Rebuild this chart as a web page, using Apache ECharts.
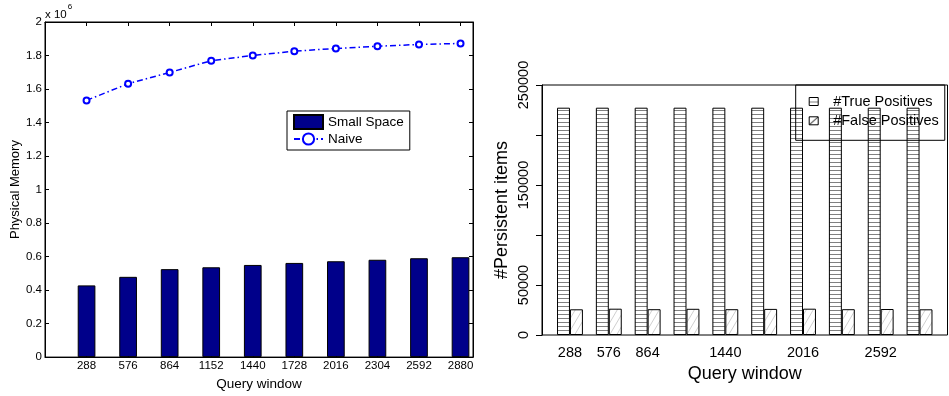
<!DOCTYPE html>
<html>
<head>
<meta charset="utf-8">
<title>Query window memory and persistent items</title>
<script src="https://cdn.jsdelivr.net/npm/echarts@6/dist/echarts.min.js"></script>
<style>
  html, body { margin: 0; padding: 0; background: #fff; }
  #chart { width: 949px; height: 396px; }
</style>
</head>
<body>
<div id="chart"></div>
<script>
// Query window sizes shared by both panels
const categories = ['288', '576', '864', '1152', '1440', '1728', '2016', '2304', '2592', '2880'];

// Left panel: physical memory usage
const smallSpace = [428000, 479000, 525000, 536000, 550000, 562000, 572000, 581000, 590000, 596000];
const naive = [1532000, 1632000, 1699000, 1769000, 1800000, 1826000, 1842000, 1855000, 1866000, 1872000];

// Right panel: persistent items found
const truePositives = [227300, 227300, 227300, 227300, 227300, 227300, 227300, 227300, 227300, 227300];
const falsePositives = [25700, 26300, 25800, 26200, 25800, 26100, 26300, 25800, 26000, 25700];

// Tick labels of the right panel (overlapping ones left blank)
const rightXLabels = ['288', '576', '864', '', '1440', '', '2016', '', '2592', ''];
const rightYLabels = ['0', '50000', '', '150000', '', '250000'];

const FONT = "'Liberation Sans', Arial, Helvetica, sans-serif";

// Fill patterns for the hatched bars
function stripePattern(size) {
  const c = document.createElement('canvas');
  c.width = size; c.height = size;
  const g = c.getContext('2d');
  g.fillStyle = '#ffffff';
  g.fillRect(0, 0, size, size);
  g.fillStyle = '#808080';
  g.fillRect(0, Math.floor(size / 2), size, 1);
  return c;
}
function diagonalPattern(w, h, color) {
  const c = document.createElement('canvas');
  c.width = w; c.height = h;
  const g = c.getContext('2d');
  g.fillStyle = '#ffffff';
  g.fillRect(0, 0, w, h);
  g.strokeStyle = color;
  g.lineWidth = 1;
  for (const dx of [-w, 0, w]) {
    g.beginPath();
    g.moveTo(dx, h);
    g.lineTo(dx + w, 0);
    g.stroke();
  }
  return c;
}

// Right panel geometry: bars of unit width, one unit of space before each pair
const rightLeft = 542, rightWidth = 405.5;
const unit = rightWidth / 31.32;
const innerLeft = rightLeft + 0.66 * unit;
const innerWidth = 30 * unit;

// Inward ticks on every side of the left panel
const innerTick = { show: true, inside: true, length: 4, lineStyle: { color: '#000', width: 1 } };
const plainLine = { show: true, onZero: false, lineStyle: { color: '#000', width: 1 } };

const chart = echarts.init(document.getElementById('chart'), null, { renderer: 'canvas' });

const option = {
  animation: false,
  backgroundColor: '#ffffff',
  textStyle: { fontFamily: FONT },
  grid: [
    { left: 45, top: 22, width: 428, height: 341, show: true, borderColor: '#000', borderWidth: 1, backgroundColor: 'transparent' },
    { left: rightLeft, top: 85, width: rightWidth, height: 250, show: true, borderColor: '#000', borderWidth: 1, backgroundColor: 'transparent' },
    { left: innerLeft, top: 85, width: innerWidth, height: 250 }
  ],
  xAxis: [
    {
      gridIndex: 0, type: 'value', min: 0, max: 10.3, interval: 1, position: 'bottom',
      name: 'Query window', nameLocation: 'middle', nameGap: 16,
      nameTextStyle: { fontSize: 13.5, color: '#000', fontFamily: FONT },
      axisLine: plainLine,
      axisTick: innerTick,
      axisLabel: {
        fontSize: 11.5, color: '#000', margin: 3, fontFamily: FONT,
        formatter: v => (Number.isInteger(v) && v >= 1 && v <= categories.length) ? categories[v - 1] : ''
      },
      splitLine: { show: false }
    },
    {
      gridIndex: 0, type: 'value', min: 0, max: 10.3, interval: 1, position: 'top',
      axisLine: plainLine,
      axisTick: innerTick,
      axisLabel: { show: false },
      splitLine: { show: false }
    },
    {
      gridIndex: 1, type: 'value', min: 0, max: 1, show: false
    },
    {
      gridIndex: 2, type: 'category', data: categories, boundaryGap: true,
      name: 'Query window', nameLocation: 'middle', nameGap: 30,
      nameTextStyle: { fontSize: 18, color: '#000', fontFamily: FONT },
      axisLine: { show: false, onZero: false },
      axisTick: { show: false },
      axisLabel: {
        fontSize: 14.5, color: '#000', margin: 10, interval: 0, fontFamily: FONT,
        formatter: (v, i) => rightXLabels[i]
      }
    }
  ],
  yAxis: [
    {
      gridIndex: 0, type: 'value', min: 0, max: 2000000, interval: 200000, position: 'left',
      name: 'Physical Memory', nameLocation: 'middle', nameGap: 23,
      nameTextStyle: { fontSize: 13, color: '#000', fontFamily: FONT },
      axisLine: plainLine,
      axisTick: innerTick,
      axisLabel: {
        fontSize: 11.5, color: '#000', margin: 3, fontFamily: FONT,
        formatter: v => String(Math.round(v / 100000) / 10)
      },
      splitLine: { show: false }
    },
    {
      gridIndex: 0, type: 'value', min: 0, max: 2000000, interval: 200000, position: 'right',
      axisLine: plainLine,
      axisTick: innerTick,
      axisLabel: { show: false },
      splitLine: { show: false }
    },
    {
      gridIndex: 1, type: 'value', min: 0, max: 250000, interval: 50000, position: 'left',
      name: '#Persistent items', nameLocation: 'middle', nameGap: 31,
      nameTextStyle: { fontSize: 18, color: '#000', fontFamily: FONT },
      axisLine: plainLine,
      axisTick: { show: true, inside: false, length: 6, lineStyle: { color: '#000' } },
      axisLabel: {
        fontSize: 14.5, color: '#000', margin: 11, rotate: 90, fontFamily: FONT,
        formatter: (v, i) => rightYLabels[i]
      },
      splitLine: { show: false }
    },
    {
      gridIndex: 2, type: 'value', min: 0, max: 250000, show: false
    }
  ],
  legend: [
    {
      data: [
        { name: 'Small Space', icon: 'rect' },
        { name: 'Naive' }
      ],
      orient: 'vertical', left: 287, top: 111,
      padding: [3, 6, 4, 6], itemGap: 2,
      itemWidth: 29, itemHeight: 14,
      backgroundColor: '#fff', borderColor: '#000', borderWidth: 1, borderRadius: 0,
      textStyle: { fontSize: 13.5, color: '#000', fontFamily: FONT },
      selectedMode: false
    },
    {
      data: [
        { name: '#True Positives', icon: 'rect',
          itemStyle: { color: { image: stripePattern(8), repeat: 'repeat' }, borderColor: '#000', borderWidth: 1 } },
        { name: '#False Positives', icon: 'rect',
          itemStyle: { color: { image: diagonalPattern(9, 8, '#000'), repeat: 'repeat' }, borderColor: '#000', borderWidth: 1 } }
      ],
      orient: 'vertical', left: 795.7, top: 85,
      padding: [9, 6, 12, 13], itemGap: 4.3,
      itemWidth: 9, itemHeight: 8,
      backgroundColor: 'transparent', borderColor: '#000', borderWidth: 1, borderRadius: 0,
      textStyle: { fontSize: 14.5, color: '#000', fontFamily: FONT, padding: [0, 0, 0, 10] },
      selectedMode: false
    }
  ],
  graphic: [
    {
      type: 'text', left: 45, top: 3, z: 10,
      style: {
        text: '{b|x 10}{s|6}',
        rich: {
          b: { fontSize: 11.5, fontFamily: FONT, fill: '#000', padding: [6, 0, 0, 0] },
          s: { fontSize: 8, fontFamily: FONT, fill: '#000', verticalAlign: 'top', padding: [0, 0, 4, 1] }
        }
      }
    }
  ],
  series: [
    {
      name: 'Small Space', type: 'bar', xAxisIndex: 0, yAxisIndex: 0,
      barWidth: 17.7,
      itemStyle: { color: '#00008a', borderColor: '#000', borderWidth: 1 },
      data: smallSpace.map((v, i) => [i + 1, v])
    },
    {
      name: 'Naive', type: 'line', xAxisIndex: 0, yAxisIndex: 0, z: 5,
      symbol: 'emptyCircle', symbolSize: 6,
      lineStyle: { color: '#0000ff', width: 1.5, type: [6, 3, 1.5, 3] },
      itemStyle: { color: '#0000ff', borderColor: '#0000ff', borderWidth: 1.5 },
      data: naive.map((v, i) => [i + 1, v])
    },
    {
      name: '#True Positives', type: 'bar', xAxisIndex: 3, yAxisIndex: 3,
      barWidth: unit, barGap: '0%',
      itemStyle: { color: { image: stripePattern(4), repeat: 'repeat' }, borderColor: '#000', borderWidth: 1 },
      data: truePositives
    },
    {
      name: '#False Positives', type: 'bar', xAxisIndex: 3, yAxisIndex: 3,
      barWidth: unit, barGap: '0%',
      itemStyle: { color: { image: diagonalPattern(7, 12, '#cfcfcf'), repeat: 'repeat' }, borderColor: '#000', borderWidth: 1 },
      data: falsePositives
    }
  ]
};

chart.setOption(option);
</script>
</body>
</html>
